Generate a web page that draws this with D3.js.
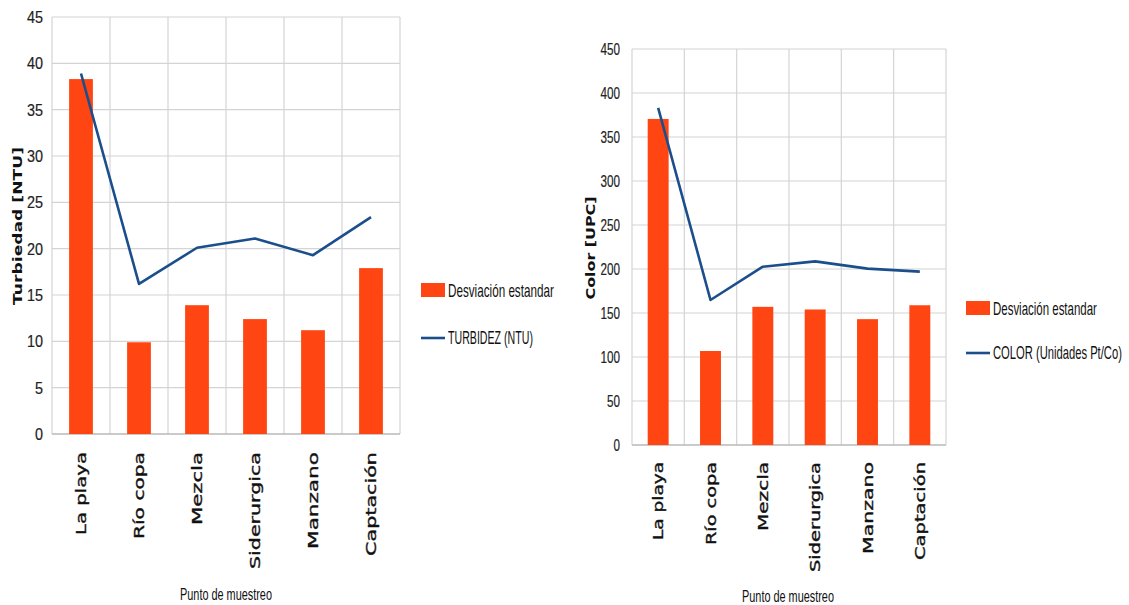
<!DOCTYPE html>
<html>
<head>
<meta charset="utf-8">
<script src="https://cdn.jsdelivr.net/npm/d3@7/dist/d3.min.js"></script>
<style>
  html, body { margin: 0; padding: 0; background: #ffffff; }
  svg { display: block; }
</style>
</head>
<body>
<svg id="chart" width="1129" height="605"></svg>
<script>
// Sampling points shared by both panels
const puntos = ["La playa", "Río copa", "Mezcla", "Siderurgica", "Manzano", "Captación"];

// Turbidity panel
const turbiedadDesviacion = [38.3, 9.9, 13.9, 12.4, 11.2, 17.9];
const turbiedadMedia = [38.9, 16.2, 20.1, 21.1, 19.3, 23.4];
const turbiedadTicks = [0, 5, 10, 15, 20, 25, 30, 35, 40, 45];

// Colour panel
const colorDesviacion = [370.5, 106.8, 157, 154, 143, 158.8];
const colorMedia = [383, 164.8, 202.6, 208.7, 200.4, 197];
const colorTicks = [0, 50, 100, 150, 200, 250, 300, 350, 400, 450];

const legendBarLabel = "Desviación estandar";
const xTitle = "Punto de muestreo";

const BAR = "#ff4512";
const LINE = "#1b4f8c";
const GRID = "#d4d4d4";
const NARROW = "'Liberation Sans Narrow', 'Liberation Sans', sans-serif";
const WIDE = "'DejaVu Sans', Verdana, sans-serif";

const svg = d3.select("#chart");

// Place a text at (x, y) and squeeze it horizontally to a given width.
function fitText(parent, str, x, y, width, size, anchor) {
  const t = parent.append("text")
    .attr("font-family", NARROW).attr("font-size", size).attr("fill", "#111")
    .attr("text-anchor", anchor || "start")
    .text(str);
  const natural = t.node().getComputedTextLength();
  const s = Math.min(1, width / natural);
  t.attr("transform", `translate(${x},${y}) scale(${s},1)`);
  return t;
}

function drawPanel(o) {
  const g = svg.append("g");
  const x = d3.scaleBand().domain(puntos).range([o.left, o.right]).padding(0);
  const y = d3.scaleLinear().domain([0, d3.max(o.ticks)]).range([o.bottom, o.top]);

  // horizontal grid
  g.append("g").selectAll("line").data(o.ticks.slice(1)).join("line")
    .attr("x1", o.left).attr("x2", o.right)
    .attr("y1", d => y(d)).attr("y2", d => y(d))
    .attr("stroke", GRID).attr("stroke-width", 1.2);

  // vertical grid at category boundaries
  const bounds = puntos.map(p => x(p)).concat([o.right]);
  g.append("g").selectAll("line").data(bounds).join("line")
    .attr("x1", d => d).attr("x2", d => d)
    .attr("y1", o.top).attr("y2", o.bottom)
    .attr("stroke", GRID).attr("stroke-width", 1.2);

  // bottom axis line
  g.append("line")
    .attr("x1", o.left).attr("x2", o.right)
    .attr("y1", o.bottom).attr("y2", o.bottom)
    .attr("stroke", "#b8b8b8").attr("stroke-width", 1.5);

  // y tick labels
  const yAxis = d3.axisLeft(y).tickValues(o.ticks).tickSize(0).tickPadding(o.tickPad);
  const ya = g.append("g").attr("transform", `translate(${o.left},0)`).call(yAxis);
  ya.select(".domain").remove();
  ya.selectAll("text")
    .attr("font-family", NARROW).attr("font-size", 17).attr("fill", "#222")
    .attr("stroke", "#222").attr("stroke-width", 0.2)
    .attr("textLength", d => String(d).length * o.digitW)
    .attr("lengthAdjust", "spacingAndGlyphs");

  // bars
  const bw = x.bandwidth() * o.barFrac;
  g.append("g").selectAll("rect").data(o.bars).join("rect")
    .attr("x", (d, i) => x(puntos[i]) + (x.bandwidth() - bw) / 2)
    .attr("width", bw)
    .attr("y", d => y(d))
    .attr("height", d => o.bottom - y(d))
    .attr("fill", BAR);

  // line series
  const line = d3.line()
    .x((d, i) => x(puntos[i]) + x.bandwidth() / 2)
    .y(d => y(d));
  g.append("path").datum(o.line)
    .attr("d", line).attr("fill", "none")
    .attr("stroke", LINE).attr("stroke-width", 2.6)
    .attr("stroke-linejoin", "round");

  // category labels, rotated
  g.append("g").selectAll("text").data(puntos).join("text")
    .attr("transform", p => `translate(${x(p) + x.bandwidth() / 2 + 5},${o.bottom + o.catGap}) rotate(-90)`)
    .attr("text-anchor", "end")
    .attr("font-family", WIDE).attr("font-size", 14).attr("fill", "#111")
    .attr("stroke", "#111").attr("stroke-width", 0.35)
    .attr("textLength", (p, i) => o.catLen[i]).attr("lengthAdjust", "spacingAndGlyphs")
    .text(p => p);

  // axis titles
  g.append("text")
    .attr("transform", `translate(${o.yTitleX},${o.yTitleY}) rotate(-90)`)
    .attr("text-anchor", "middle")
    .attr("font-family", WIDE).attr("font-weight", "bold").attr("font-size", 13).attr("fill", "#111")
    .attr("textLength", o.yTitleLen).attr("lengthAdjust", "spacingAndGlyphs")
    .text(o.yTitle);

  fitText(g, xTitle, o.xTitleX, o.xTitleY, 92, 17, "middle");

  // legend
  const lg = g.append("g").attr("transform", `translate(${o.legX},${o.legY})`);
  lg.append("rect").attr("x", 0).attr("y", -7).attr("width", 24).attr("height", 14).attr("fill", BAR);
  fitText(lg, legendBarLabel, 27, 7, o.legLen1, 18);
  lg.append("line").attr("x1", 0).attr("x2", 24).attr("y1", o.legGap).attr("y2", o.legGap)
    .attr("stroke", LINE).attr("stroke-width", 2.6);
  fitText(lg, o.lineLabel, 27, o.legGap + 6, o.legLen2, 18);
}

drawPanel({
  left: 52, right: 400, top: 17, bottom: 434,
  ticks: turbiedadTicks, bars: turbiedadDesviacion, line: turbiedadMedia,
  barFrac: 0.41, tickPad: 9, digitW: 8, catGap: 18,
  catLen: [83, 87, 73, 117, 97, 104],
  yTitle: "Turbiedad [NTU]", yTitleX: 22, yTitleY: 226, yTitleLen: 158,
  xTitleX: 226, xTitleY: 599.5,
  legX: 421, legY: 290, legGap: 48, legLen1: 106, legLen2: 85,
  lineLabel: "TURBIDEZ (NTU)"
});

drawPanel({
  left: 632, right: 946, top: 49, bottom: 445,
  ticks: colorTicks, bars: colorDesviacion, line: colorMedia,
  barFrac: 0.4, tickPad: 12, digitW: 6.5, catGap: 17,
  catLen: [78, 83, 69, 110, 92, 98],
  yTitle: "Color [UPC]", yTitleX: 595, yTitleY: 248, yTitleLen: 103,
  xTitleX: 788, xTitleY: 601.5,
  legX: 966, legY: 308, legGap: 45, legLen1: 104, legLen2: 129,
  lineLabel: "COLOR (Unidades Pt/Co)"
});
</script>
</body>
</html>
